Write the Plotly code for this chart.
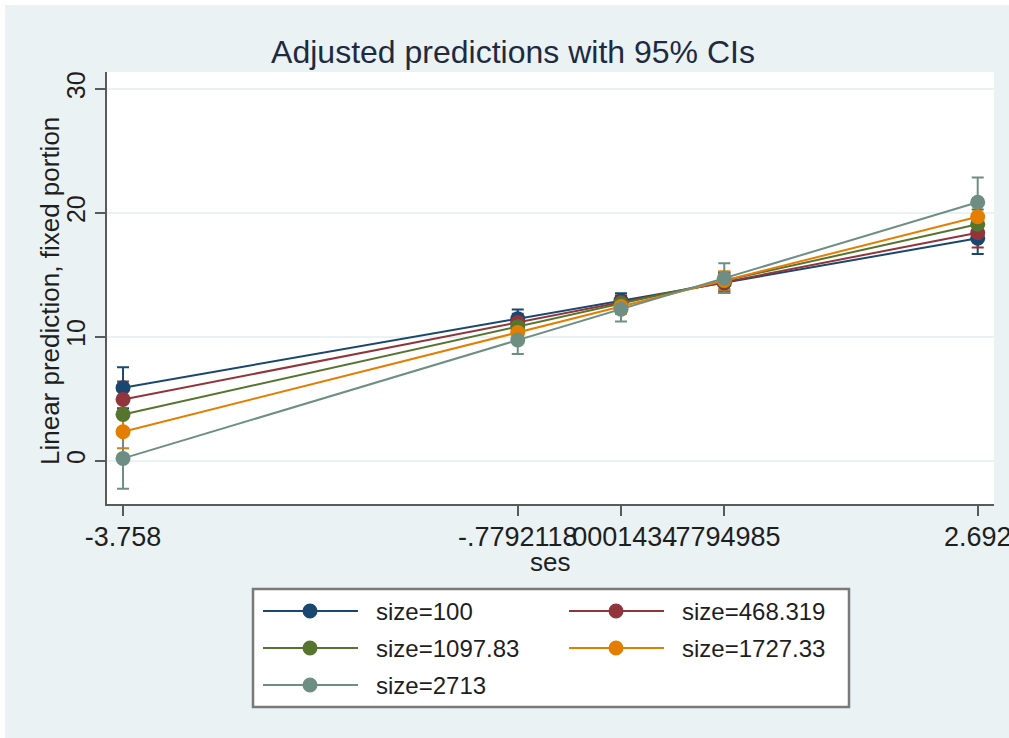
import plotly.graph_objects as go

# ---------------- data ----------------
ses = [-3.758, -0.7792118, 0.0001434, 0.7794985, 2.692]
x_ticktext = ["-3.758", "-.7792118", ".0001434", ".7794985", "2.692"]
y_tickvals = [0, 10, 20, 30]

series_names = ["size=100", "size=468.319", "size=1097.83", "size=1727.33", "size=2713"]

pred_size100 = [5.89, 11.46, 12.92, 14.37, 17.95]
pred_size468 = [4.95, 11.16, 12.79, 14.41, 18.40]
pred_size1098 = [3.74, 10.82, 12.68, 14.53, 19.08]
pred_size1727 = [2.34, 10.35, 12.45, 14.54, 19.69]
pred_size2713 = [0.19, 9.74, 12.23, 14.73, 20.86]

ci_half_size100 = [1.65, 0.75, 0.60, 0.80, 1.27]
ci_half_size468 = [1.45, 0.70, 0.55, 0.70, 1.20]
ci_half_size1098 = [1.30, 0.70, 0.55, 0.70, 1.20]
ci_half_size1727 = [1.34, 0.75, 0.60, 0.75, 1.30]
ci_half_size2713 = [2.45, 1.13, 1.00, 1.20, 2.00]

preds = [pred_size100, pred_size468, pred_size1098, pred_size1727, pred_size2713]
cis = [ci_half_size100, ci_half_size468, ci_half_size1098, ci_half_size1727, ci_half_size2713]

colors = ["#1A476F", "#90353B", "#55752F", "#E37E00", "#6E8E84"]

# ---------------- geometry ----------------
W, H = 1009, 738
ML, MR, MT, MB = 107, 15, 72, 234
PW = W - ML - MR
PH = H - MT - MB
BG = "#EAF2F3"
FONT = "Arial, Liberation Sans, sans-serif"
TXT = "#1e1e1e"


def px_x(px):
    return (px - ML) / PW


def px_y(py):
    return (H - MB - py) / PH


fig = go.Figure()

# confidence intervals first (drawn underneath)
for name, p, ci, c in zip(series_names, preds, cis, colors):
    fig.add_trace(go.Scatter(
        x=ses, y=p, mode="markers",
        marker=dict(size=1, opacity=0, color=c),
        error_y=dict(type="data", array=ci, color=c, thickness=2, width=6),
        showlegend=False, hoverinfo="skip"))

# connected predictions
for name, p, c in zip(series_names, preds, colors):
    fig.add_trace(go.Scatter(
        x=ses, y=p, mode="lines+markers", name=name,
        line=dict(color=c, width=2),
        marker=dict(color=c, size=15),
        showlegend=False))

# ---------------- custom legend (Stata style) ----------------
shapes = []
annotations = []
box = dict(x0=253, x1=849, y0=589, y1=707)
shapes.append(dict(type="rect", xref="paper", yref="paper",
                   x0=px_x(box["x0"]), x1=px_x(box["x1"]),
                   y0=px_y(box["y1"]), y1=px_y(box["y0"]),
                   fillcolor="white", line=dict(color="#7a7a7a", width=2.5),
                   layer="below"))
for i, (name, c) in enumerate(zip(series_names, colors)):
    col, row = i % 2, i // 2
    ox = 306 * col
    cy = 611 + 37 * row
    shapes.append(dict(type="line", xref="paper", yref="paper",
                       x0=px_x(263 + ox), x1=px_x(358 + ox),
                       y0=px_y(cy), y1=px_y(cy),
                       line=dict(color=c, width=2)))
    cx = 310 + ox
    r = 7.5
    shapes.append(dict(type="circle", xref="paper", yref="paper",
                       x0=px_x(cx - r), x1=px_x(cx + r),
                       y0=px_y(cy + r), y1=px_y(cy - r),
                       fillcolor=c, line=dict(color=c, width=0)))
    annotations.append(dict(text=name, xref="paper", yref="paper",
                            x=px_x(374 + ox), y=px_y(cy),
                            xanchor="left", yanchor="middle", showarrow=False,
                            font=dict(family=FONT, size=24, color=TXT)))

# axis titles placed as in the reference
annotations.append(dict(text="Linear prediction, fixed portion", xref="paper", yref="paper",
                        x=px_x(50), y=px_y(291), textangle=-90,
                        xanchor="center", yanchor="middle", showarrow=False,
                        font=dict(family=FONT, size=26, color=TXT)))
annotations.append(dict(text="ses", xref="paper", yref="paper",
                        x=px_x(550), y=px_y(562),
                        xanchor="center", yanchor="middle", showarrow=False,
                        font=dict(family=FONT, size=26, color=TXT)))

# white strips at the top and left edges of the screenshot
shapes.append(dict(type="rect", xref="paper", yref="paper",
                   x0=px_x(0), x1=px_x(W), y0=px_y(5), y1=px_y(0),
                   fillcolor="white", line=dict(width=0)))
shapes.append(dict(type="rect", xref="paper", yref="paper",
                   x0=px_x(0), x1=px_x(5), y0=px_y(H), y1=px_y(0),
                   fillcolor="white", line=dict(width=0)))

fig.update_layout(
    width=W, height=H,
    margin=dict(l=ML, r=MR, t=MT, b=MB, autoexpand=False),
    paper_bgcolor=BG, plot_bgcolor="white",
    font=dict(family=FONT, color=TXT),
    title=dict(text="Adjusted predictions with 95% CIs",
               x=513 / W, xref="container", xanchor="center",
               y=1 - 52 / H, yref="container", yanchor="middle",
               font=dict(family=FONT, size=32, color="#1f2a40")),
    shapes=shapes, annotations=annotations,
    showlegend=False,
)

fig.update_xaxes(
    range=[-3.879, 2.815], tickmode="array", tickvals=ses, ticktext=x_ticktext,
    tickangle=0, ticks="outside", ticklen=10, tickwidth=2, tickcolor="#5a5a5a",
    showline=True, linecolor="#5a5a5a", linewidth=2, showgrid=False, zeroline=False,
    tickfont=dict(family=FONT, size=27, color=TXT), ticklabeloverflow="allow",
    ticklabelstandoff=-2,
    automargin=False,
)
fig.update_yaxes(
    range=[-3.49, 31.37], tickmode="array", tickvals=y_tickvals,
    tickangle=-90, ticks="outside", ticklen=10, tickwidth=2, tickcolor="#5a5a5a",
    showline=True, linecolor="#5a5a5a", linewidth=2,
    showgrid=True, gridcolor=BG, gridwidth=2, zeroline=False,
    tickfont=dict(family=FONT, size=25, color=TXT),
    automargin=False,
)

fig.write_html("out.html")
